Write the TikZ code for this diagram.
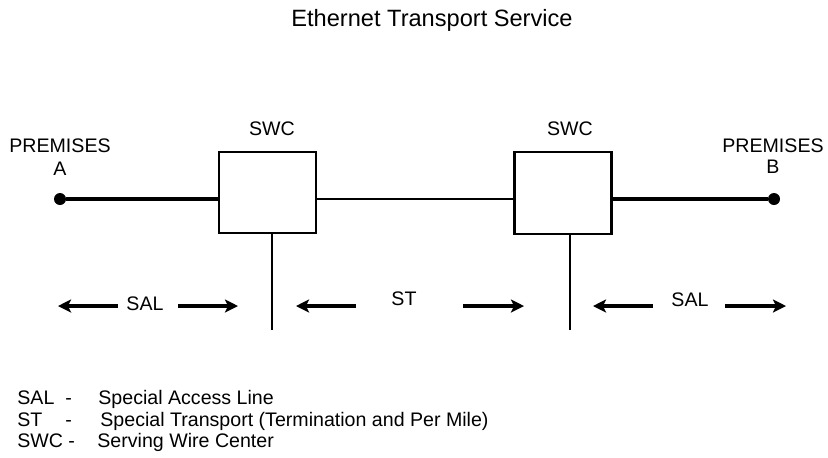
\documentclass[tikz,border=0pt]{standalone}
\usepackage{fontspec}
\setmainfont{Liberation Sans}
\usetikzlibrary{arrows.meta}

\begin{document}
\begin{tikzpicture}[
x=0.5pt, y=-0.5pt,
lbl/.style={inner sep=0pt, font=\fontsize{9.8pt}{12pt}\selectfont},
office/.style={rectangle, draw, line width=1.1pt, minimum width=48.5pt, minimum height=40.75pt, inner sep=0pt},
site/.style={circle, fill, inner sep=0pt, minimum size=6pt},
trunk/.style={line width=1.6pt},
reach/.style={line width=1.6pt, -{Stealth[length=6.5pt, width=6.5pt, inset=1.5pt]}}
]
\useasboundingbox (0,0) rectangle (828,457);

\node[font=\fontsize{11.8pt}{14pt}\selectfont, inner sep=0pt] (title) at (432,20) {Ethernet Transport Service};

% premises and serving wire centers
\node[site] (premA) at (60,199) {};
\node[site] (premB) at (774,199) {};
\node[office] (swcA) at (267.5,192.5) {};
\node[office] (swcB) at (563,193) {};

\node[lbl, anchor=base] (premAname) at (60,152) {PREMISES};
\node[lbl, anchor=base] (premAid) at (60,175) {A};
\node[lbl, anchor=base] (premBname) at (773,152) {PREMISES};
\node[lbl, anchor=base] (premBid) at (773,173) {B};
\node[lbl] (swcAname) at (272,129) {SWC};
\node[lbl] (swcBname) at (570,129) {SWC};

\draw[trunk] (premA) -- (premA -| swcA.west);
\draw[line width=0.8pt] (swcA.east |- premA) -- (swcB.west |- premA);
\draw[trunk] (swcB.east |- premB) -- (premB);

% drops below the offices
\coordinate (dropA) at (272,330);
\coordinate (dropB) at (570,330);
\draw[line width=1.1pt] (dropA |- swcA.south) -- (dropA);
\draw[line width=1.1pt] (dropB |- swcB.south) -- (dropB);

% section arrows
\node[lbl] (salA) at (145,304) {SAL};
\node[lbl] (st) at (404,299) {ST};
\node[lbl] (salB) at (690,300) {SAL};

\coordinate (salAa) at (118,306);
\coordinate (salAb) at (58,306);
\coordinate (salAc) at (178,306);
\coordinate (salAd) at (238,306);
\coordinate (sta) at (356,306);
\coordinate (stb) at (296,306);
\coordinate (stc) at (463,306);
\coordinate (std) at (524,306);
\coordinate (salBa) at (653,306);
\coordinate (salBb) at (593,306);
\coordinate (salBc) at (725,306);
\coordinate (salBd) at (786,306);

\draw[reach] (salAa) -- (salAb);
\draw[reach] (salAc) -- (salAd);
\draw[reach] (sta) -- (stb);
\draw[reach] (stc) -- (std);
\draw[reach] (salBa) -- (salBb);
\draw[reach] (salBc) -- (salBd);

% legend
\node[lbl, anchor=base west] (keySAL) at (17,404) {SAL};
\node[lbl, anchor=base west] (dashSAL) at (65,404) {-};
\node[lbl, anchor=base west] (textSAL) at (98,404) {Special Access Line};
\node[lbl, anchor=base west] (keyST) at (17,426) {ST};
\node[lbl, anchor=base west] (dashST) at (65,426) {-};
\node[lbl, anchor=base west] (textST) at (100,426) {Special Transport (Termination and Per Mile)};
\node[lbl, anchor=base west] (keySWC) at (17,447) {SWC};
\node[lbl, anchor=base west] (dashSWC) at (68,447) {-};
\node[lbl, anchor=base west] (textSWC) at (97,447) {Serving Wire Center};
\end{tikzpicture}
\end{document}
